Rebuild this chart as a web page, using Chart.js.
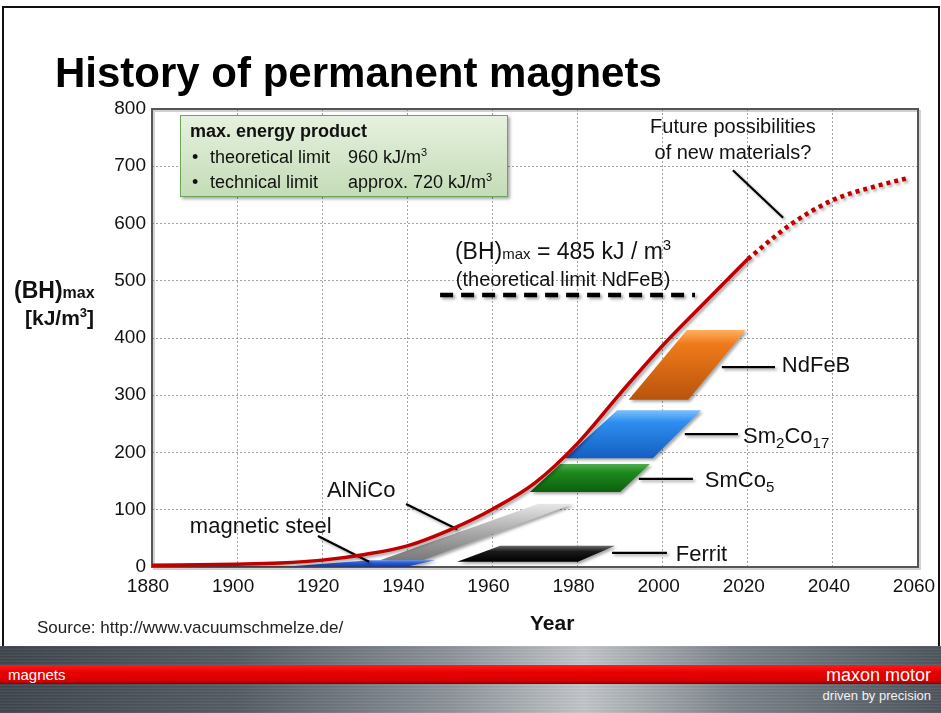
<!DOCTYPE html>
<html><head><meta charset="utf-8">
<script src="https://cdn.jsdelivr.net/npm/chart.js@4.4.1/dist/chart.umd.min.js"></script>
<style>
html,body{margin:0;padding:0;background:#fff;}
body{width:941px;height:713px;position:relative;overflow:hidden;font-family:"Liberation Sans",Arial,sans-serif;color:#111;}
#c{position:absolute;left:0;top:0;z-index:1;}
.abs{position:absolute;white-space:nowrap;line-height:1;z-index:3;}
#frame{position:absolute;left:2px;top:6px;width:934px;height:639px;border:2px solid #111;border-bottom:none;z-index:0;}
#title{left:55px;top:52px;font-size:42px;font-weight:bold;color:#000;}
#note{position:absolute;left:180px;top:115px;width:326px;height:80px;border:1.5px solid #6fa558;
 background:linear-gradient(#e6f1df,#c4dcb7);box-shadow:2px 2px 3px rgba(0,0,0,0.35);z-index:2;}
.n{font-size:18px;}
sup{font-size:11px;vertical-align:7px;line-height:0;}
#banner{position:absolute;left:0;top:646px;width:941px;height:67px;z-index:2;
 background:linear-gradient(90deg,#3f454d 0%,#545b63 25%,#8d939a 48%,#c1c5c9 62%,#7c838a 78%,#4d545c 100%);}
#banner:after{content:"";position:absolute;left:0;top:0;right:0;bottom:0;
 background:repeating-linear-gradient(0deg,rgba(255,255,255,0.06) 0px,rgba(255,255,255,0.06) 1px,rgba(0,0,0,0.06) 2px,rgba(0,0,0,0) 3px);}
#red{position:absolute;left:0;top:665px;width:941px;height:19px;z-index:3;
 background:linear-gradient(#ff1a1a,#e80000 40%,#d40000 85%,#8a0000);}
.b{position:absolute;white-space:nowrap;line-height:1;z-index:4;color:#fff;font-family:"Liberation Sans Narrow","Liberation Sans",Arial,sans-serif;}
</style></head><body>
<div id="frame"></div>
<canvas id="c" width="941" height="713"></canvas>
<div class="abs" id="title">History of permanent magnets</div>
<div class="abs" style="left:14px;top:279px;font-size:23px;font-weight:bold;">(BH)<span style="font-size:16px">max</span></div>
<div class="abs" style="left:25px;top:307px;font-size:21px;font-weight:bold;">[kJ/m<sup style="font-size:13px;vertical-align:8px">3</sup>]</div>
<div class="abs" style="left:530px;top:612px;font-size:21px;font-weight:bold;">Year</div>
<div class="abs" style="left:37px;top:619px;font-size:17px;color:#222;">Source: http://www.vacuumschmelze.de/</div>
<div id="note"></div>
<div class="abs n" style="left:190px;top:122px;font-weight:bold;">max. energy product</div>
<div class="abs n" style="left:192px;top:148px;">•</div>
<div class="abs n" style="left:210px;top:148px;">theoretical limit</div>
<div class="abs n" style="left:348px;top:148px;">960 kJ/m<sup>3</sup></div>
<div class="abs n" style="left:192px;top:173px;">•</div>
<div class="abs n" style="left:210px;top:173px;">technical limit</div>
<div class="abs n" style="left:348px;top:173px;">approx. 720 kJ/m<sup>3</sup></div>
<div id="banner"></div>
<div id="red"></div>
<div class="b" style="left:8px;top:667px;font-size:15px;">magnets</div>
<div class="b" style="right:10px;top:666px;font-size:18px;">maxon motor</div>
<div class="b" style="right:10px;top:689px;font-size:13px;color:#f2f2f2;">driven by precision</div>
<script>
// ---- data ----
const xTickLabels = [1880,1900,1920,1940,1960,1980,2000,2020,2040,2060];
const yTickLabels = [0,100,200,300,400,500,600,700,800];
const curveYears  = [1880,1900,1910,1920,1930,1940,1950,1960,1970,1980,1990,2000,2010,2020];
const curveValues = [3,5,7,12,22,37,65,101,147,216,303,387,463,538];
const futureYears  = [2020,2030,2040,2050,2058];
const futureValues = [538,598,641,665,680];
const limitYears  = [1947.7,2007.6];
const limitValues = [475,475];
const steelYears   = [1912,1940,1946.5,1931];
const steelValues  = [1,1,12,12];
const alnicoYears  = [1933.6,1943.7,1978.9,1970.7];
const alnicoValues = [12,12,110,110];
const ferritYears  = [1951.7,1980.1,1988.8,1961.8];
const ferritValues = [9,9,37,37];
const smco5Years   = [1968.8,1990,1997,1975.9];
const smco5Values  = [131,131,180,180];
const sm2co17Years = [1977,1997.7,2009,1989.3];
const sm2co17Values= [190,190,274,274];
const ndfebYears   = [1992,2006,2019.5,2005.7];
const ndfebValues  = [292,292,414,414];
const leaderStartYears  = [2016.5,2013.9,2005.2,1994.4,1988.1,1939.7,1919];
const leaderStartValues = [693,349,232,154,24.5,110,54];
const leaderEndYears    = [2028.3,2026.4,2017.7,2007.1,2001,1951.7,1931];
const leaderEndValues   = [610,349,232,154,24.5,66,9];

const pts = (xs, ys) => xs.map((x,i)=>({x, y: ys[i]}));
const poly = (xs, ys) => { const p = pts(xs, ys); p.push(p[0]); return p; };
function grad(stops, topV, botV){
  return (c)=>{
    const ch = c.chart; const ys = ch.scales && ch.scales.y;
    if(!ch.chartArea || !ys) return stops[1][1];
    const g = ch.ctx.createLinearGradient(0, ys.getPixelForValue(topV), 0, ys.getPixelForValue(botV));
    stops.forEach(([o,col])=>g.addColorStop(o,col));
    return g;
  };
}
function shape(data, bg){
  return {type:'line', data, fill:'shape', backgroundColor:bg, borderWidth:0, pointRadius:0, tension:0};
}
const datasets = [];
datasets.push({type:'line', data:pts(curveYears,curveValues), borderColor:'#c00000', borderWidth:3.5, pointRadius:0, cubicInterpolationMode:'monotone', fill:false});
datasets.push({type:'line', data:pts(futureYears,futureValues), borderColor:'#c00000', borderWidth:4.5, borderDash:[4,4], borderCapStyle:'butt', pointRadius:0, cubicInterpolationMode:'monotone', fill:false});
for(let i=0;i<leaderStartYears.length;i++){
  datasets.push({type:'line', data:[{x:leaderStartYears[i],y:leaderStartValues[i]},{x:leaderEndYears[i],y:leaderEndValues[i]}],
    borderColor:'#000', borderWidth:2.2, pointRadius:0, fill:false});
}
datasets.push({type:'line', data:pts(limitYears,limitValues), borderColor:'#000', borderWidth:4.5, borderDash:[13,8], pointRadius:0, fill:false});
datasets.push(shape(poly(steelYears,steelValues), grad([[0,'#5b8cf0'],[0.5,'#2356d6'],[1,'#163fa8']],12,1)));
datasets.push(shape(poly(alnicoYears,alnicoValues), grad([[0,'#e6e6e6'],[0.5,'#a9a9a9'],[1,'#7a7a7a']],110,12)));
datasets.push(shape(poly(ferritYears,ferritValues), grad([[0,'#6a6a6a'],[0.35,'#1a1a1a'],[1,'#000']],37,9)));
datasets.push(shape(poly(smco5Years,smco5Values), grad([[0,'#4fae4f'],[0.3,'#1d8a1d'],[1,'#0d5f0d']],180,131)));
datasets.push(shape(poly(sm2co17Years,sm2co17Values), grad([[0,'#7cc0ff'],[0.25,'#2e8ef0'],[1,'#145fc0']],274,190)));
datasets.push(shape(poly(ndfebYears,ndfebValues), grad([[0,'#ffb060'],[0.2,'#ef7a1a'],[1,'#b9530c']],414,292)));

const textItems = [
  {x:1976.6, y:538, align:'center', parts:[['(BH)',23],['max',15],[' = 485 kJ / m',23],['3',15,-9]]},
  {x:1976.6, y:491, align:'center', parts:[['(theoretical limit NdFeB)',20]]},
  {x:2016.5, y:758, align:'center', parts:[['Future possibilities',20]]},
  {x:2016.5, y:713, align:'center', parts:[['of new materials?',20]]},
  {x:2028, y:340.6, align:'left', parts:[['NdFeB',22]]},
  {x:2018.9, y:216.6, align:'left', parts:[['Sm',22],['2',15,5],['Co',22],['17',15,5]]},
  {x:2009.9, y:140, align:'left', parts:[['SmCo',22],['5',15,5]]},
  {x:2003.1, y:10.5, align:'left', parts:[['Ferrit',22]]},
  {x:1921.1, y:122, align:'left', parts:[['AlNiCo',22]]},
  {x:1888.9, y:59, align:'left', parts:[['magnetic steel',22]]}
];

const framePlugin = {
  id:'frame',
  beforeDatasetsDraw(chart){
    const {ctx, chartArea:a} = chart;
    ctx.save();
    ctx.strokeStyle='rgba(0,0,0,0.18)'; ctx.lineWidth=2;
    ctx.strokeRect(a.left+2, a.top+2, a.right-a.left, a.bottom-a.top);
    ctx.strokeStyle='#555'; ctx.lineWidth=2;
    ctx.strokeRect(a.left, a.top, a.right-a.left, a.bottom-a.top);
    ctx.restore();
    // soft drop shadow for all marks (like the slide's shape effects)
    ctx.save();
    ctx.shadowColor='rgba(0,0,0,0.35)'; ctx.shadowBlur=3; ctx.shadowOffsetX=2; ctx.shadowOffsetY=2;
  },
  afterDatasetsDraw(chart){
    chart.ctx.restore();
  }
};
const textPlugin = {
  id:'texts',
  afterDatasetsDraw(chart){
    const {ctx} = chart; const sx = chart.scales.x, sy = chart.scales.y;
    ctx.save(); ctx.shadowColor='rgba(0,0,0,0)'; ctx.fillStyle='#111'; ctx.textBaseline='alphabetic'; ctx.textAlign='left';
    textItems.forEach(it=>{
      let w = 0;
      it.parts.forEach(p=>{ ctx.font = p[1]+'px "Liberation Sans", Arial, sans-serif'; w += ctx.measureText(p[0]).width; });
      let px = sx.getPixelForValue(it.x); const py = sy.getPixelForValue(it.y);
      if(it.align==='center') px -= w/2;
      it.parts.forEach(p=>{ ctx.font = p[1]+'px "Liberation Sans", Arial, sans-serif'; ctx.fillText(p[0], px, py + (p[2]||0)); px += ctx.measureText(p[0]).width; });
    });
    ctx.restore();
  }
};

new Chart(document.getElementById('c'), {
  type:'line',
  data:{datasets},
  options:{
    responsive:false, devicePixelRatio:1, animation:false,
    layout:{padding:{left:0, top:109, right:23, bottom:0}},
    plugins:{legend:{display:false}, tooltip:{enabled:false}},
    elements:{line:{borderJoinStyle:'round'}},
    scales:{
      x:{type:'linear', min:1880, max:2060,
        afterFit(s){ s.height = 146; s.paddingLeft = 0; s.paddingRight = 0; },
        afterBuildTicks(s){ s.ticks = xTickLabels.map(v=>({value:v})); },
        ticks:{callback:v=>String(v), color:'#111', font:{size:19, family:'"Liberation Sans", Arial, sans-serif'}, padding:8, labelOffset:-4, maxRotation:0, autoSkip:false},
        grid:{color:'#a3a3a3', lineWidth:1, drawTicks:false},
        border:{display:false, dash:[2,2]}
      },
      y:{type:'linear', min:0, max:800,
        afterFit(s){ s.width = 152; s.paddingTop = 0; s.paddingBottom = 0; },
        afterBuildTicks(s){ s.ticks = yTickLabels.map(v=>({value:v})); },
        ticks:{callback:v=>String(v), color:'#111', font:{size:19, family:'"Liberation Sans", Arial, sans-serif'}, padding:6},
        grid:{color:'#a3a3a3', lineWidth:1, drawTicks:false},
        border:{display:false, dash:[2,2]}
      }
    }
  },
  plugins:[framePlugin, textPlugin]
});
</script>
</body></html>
